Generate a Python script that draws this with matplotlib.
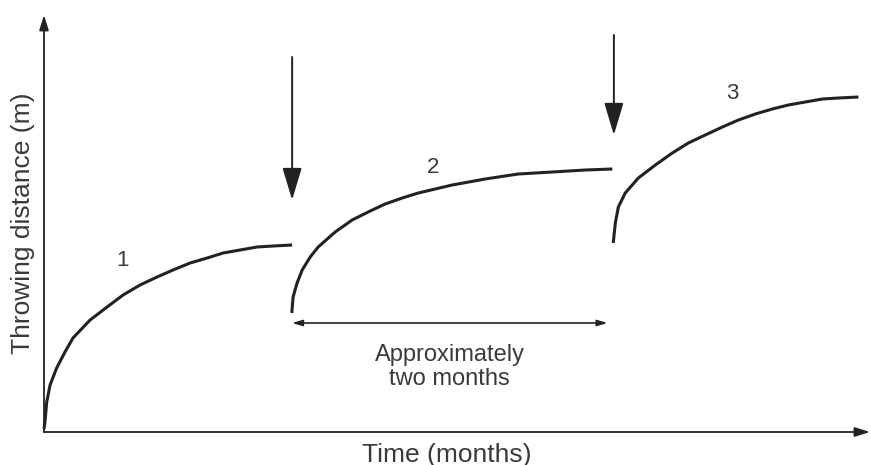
import matplotlib
matplotlib.use('Agg')
import matplotlib.pyplot as plt

# Curve data: time (months) vs throwing distance (m)
time_1 = [0.0, 0.006, 0.017, 0.038, 0.079, 0.131, 0.181, 0.288, 0.394, 0.494, 0.60,
          0.706, 0.806, 0.913, 1.019, 1.119, 1.225, 1.331, 1.431, 1.55]
dist_1 = [0.3, 1.0, 3.0, 4.7, 6.4, 8.0, 9.4, 11.2, 12.5, 13.7, 14.7,
          15.5, 16.2, 16.9, 17.4, 17.9, 18.2, 18.5, 18.6, 18.7]

time_2 = [1.548, 1.556, 1.581, 1.613, 1.663, 1.713, 1.819, 1.925, 2.025, 2.131,
          2.238, 2.338, 2.444, 2.55, 2.756, 2.963, 3.175, 3.381, 3.55]
dist_2 = [11.9, 13.5, 14.9, 16.2, 17.5, 18.5, 20.0, 21.2, 22.0, 22.8,
          23.4, 23.9, 24.3, 24.7, 25.3, 25.8, 26.0, 26.2, 26.3]

time_3 = [3.556, 3.569, 3.588, 3.631, 3.713, 3.819, 3.925, 4.025, 4.131, 4.238,
          4.338, 4.444, 4.55, 4.65, 4.756, 4.863, 4.963, 5.088]
dist_3 = [18.9, 20.9, 22.5, 23.9, 25.4, 26.7, 27.9, 28.9, 29.7, 30.5,
          31.2, 31.8, 32.3, 32.7, 33.0, 33.3, 33.4, 33.5]

# Curve labels and their positions
curve_labels = ['1', '2', '3']
label_time = [0.49, 2.43, 4.30]
label_dist = [17.2, 26.5, 33.9]

# Change points (down arrows): time, arrow top, arrow tip
change_time = [1.55, 3.56]
change_top = [37.5, 39.7]
change_tip = [23.2, 29.7]

# "Approximately two months" span
span_start = 1.55
span_end = 3.52
span_level = 10.9

X_MAX = 5.16
Y_MAX = 41.7
LINE_COLOR = '#222222'
TEXT_COLOR = '#3a3a3a'

plt.rcParams['font.family'] = ['Liberation Sans', 'DejaVu Sans']

fig = plt.figure(figsize=(8.71, 4.65), dpi=100)
ax = fig.add_axes([44 / 871, 33 / 465, 826 / 871, 417 / 465])
ax.set_xlim(0, X_MAX)
ax.set_ylim(0, Y_MAX)
ax.axis('off')
ax.patch.set_visible(False)

# Axes with arrow heads
axis_arrow = dict(arrowstyle='-|>,head_length=0.9,head_width=0.28', color=LINE_COLOR,
                  lw=1.3, shrinkA=0, shrinkB=0, mutation_scale=10)
ax.annotate('', xy=(0, Y_MAX), xytext=(0, 0), arrowprops=axis_arrow, annotation_clip=False)
ax.annotate('', xy=(X_MAX, 0), xytext=(0, 0), arrowprops=axis_arrow, annotation_clip=False)

# The three curves
for t, d in [(time_1, dist_1), (time_2, dist_2), (time_3, dist_3)]:
    ax.plot(t, d, color=LINE_COLOR, lw=2.2, solid_capstyle='butt',
            solid_joinstyle='round', clip_on=False)

for lab, tx, ty in zip(curve_labels, label_time, label_dist):
    ax.text(tx, ty, lab, fontsize=16, color=TEXT_COLOR, ha='center', va='center')

# Down arrows marking a change
for t, top, tip in zip(change_time, change_top, change_tip):
    ax.annotate('', xy=(t, tip), xytext=(t, top),
                arrowprops=dict(arrowstyle='-|>,head_length=1.0,head_width=0.3', color=LINE_COLOR,
                                lw=1.4, shrinkA=0, shrinkB=0, mutation_scale=20))

# Two month span
ax.annotate('', xy=(span_end, span_level), xytext=(span_start, span_level),
            arrowprops=dict(arrowstyle='<|-|>,head_length=0.6,head_width=0.18', color=LINE_COLOR,
                            lw=1.2, shrinkA=0, shrinkB=0, mutation_scale=10))
ax.text((span_start + span_end) / 2, 6.5, 'Approximately\ntwo months', fontsize=17,
        color=TEXT_COLOR, ha='center', va='center', linespacing=1.15)

# Axis labels
ax.text(0.488, -0.054, 'Time (months)', transform=ax.transAxes, fontsize=19,
        color=TEXT_COLOR, ha='center', va='center')
ax.text(-0.025, 0.5, 'Throwing distance (m)', transform=ax.transAxes, fontsize=19,
        color=TEXT_COLOR, ha='center', va='center', rotation=90)

fig.savefig('out.png', dpi=100, facecolor='white')
